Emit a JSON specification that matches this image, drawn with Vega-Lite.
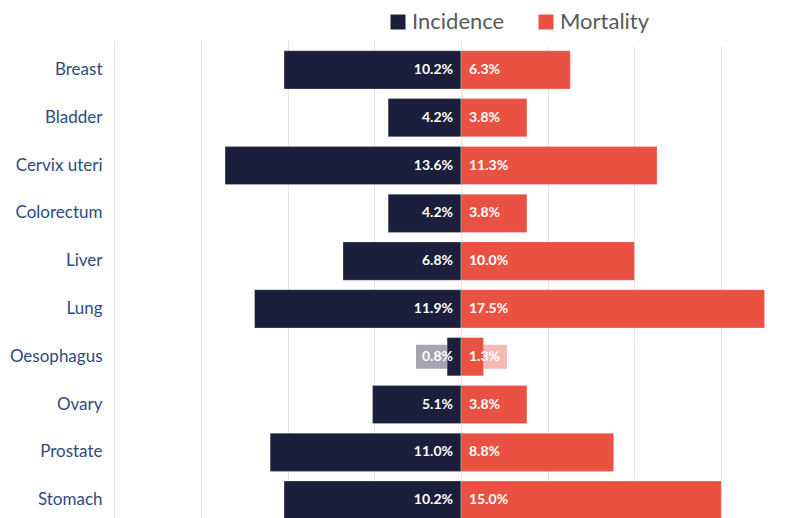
{
  "$schema": "https://vega.github.io/schema/vega-lite/v6.json",
  "width": 687,
  "height": 472,
  "autosize": "none",
  "padding": {"left": 114, "top": 46, "right": 0, "bottom": 0},
  "background": "white",
  "config": {
    "view": {"stroke": null},
    "font": "Lato",
    "legend": {
      "orient": "none",
      "legendX": 273,
      "legendY": -35,
      "direction": "horizontal",
      "symbolType": "square",
      "symbolSize": 225,
      "symbolStrokeWidth": 0,
      "symbolOpacity": 1,
      "labelFontSize": 22,
      "labelFont": "Lato",
      "labelColor": "#595959",
      "columnPadding": 30,
      "labelOffset": 3,
      "title": null
    }
  },
  "data": {
    "values": [
      {"cancer": "Breast", "measure": "Incidence", "value": 0.102},
      {"cancer": "Breast", "measure": "Mortality", "value": 0.063},
      {"cancer": "Bladder", "measure": "Incidence", "value": 0.042},
      {"cancer": "Bladder", "measure": "Mortality", "value": 0.038},
      {"cancer": "Cervix uteri", "measure": "Incidence", "value": 0.136},
      {"cancer": "Cervix uteri", "measure": "Mortality", "value": 0.113},
      {"cancer": "Colorectum", "measure": "Incidence", "value": 0.042},
      {"cancer": "Colorectum", "measure": "Mortality", "value": 0.038},
      {"cancer": "Liver", "measure": "Incidence", "value": 0.068},
      {"cancer": "Liver", "measure": "Mortality", "value": 0.100},
      {"cancer": "Lung", "measure": "Incidence", "value": 0.119},
      {"cancer": "Lung", "measure": "Mortality", "value": 0.175},
      {"cancer": "Oesophagus", "measure": "Incidence", "value": 0.008},
      {"cancer": "Oesophagus", "measure": "Mortality", "value": 0.013},
      {"cancer": "Ovary", "measure": "Incidence", "value": 0.051},
      {"cancer": "Ovary", "measure": "Mortality", "value": 0.038},
      {"cancer": "Prostate", "measure": "Incidence", "value": 0.110},
      {"cancer": "Prostate", "measure": "Mortality", "value": 0.088},
      {"cancer": "Stomach", "measure": "Incidence", "value": 0.102},
      {"cancer": "Stomach", "measure": "Mortality", "value": 0.150}
    ]
  },
  "encoding": {
    "y": {
      "field": "cancer",
      "type": "nominal",
      "scale": {
        "domain": ["Breast", "Bladder", "Cervix uteri", "Colorectum", "Liver", "Lung", "Oesophagus", "Ovary", "Prostate", "Stomach"],
        "range": [0, 478],
        "paddingInner": 0.2,
        "paddingOuter": 0.1
      },
      "axis": {
        "title": null,
        "ticks": false,
        "domain": false,
        "labelPadding": 12,
        "labelFontSize": 17,
        "labelFont": "Lato",
        "labelColor": "#2F4B7C",
        "grid": false
      }
    },
    "color": {
      "field": "measure",
      "type": "nominal",
      "scale": {"domain": ["Incidence", "Mortality"], "range": ["#1C1F3B", "#E95243"]}
    }
  },
  "layer": [
    {
      "transform": [{"filter": "datum.measure == 'Incidence'"}],
      "layer": [
        {
          "transform": [{"filter": "datum.value < 0.02"}],
          "mark": {"type": "bar", "height": 24, "xOffset": -45, "x2Offset": -3, "opacity": 0.4, "clip": true},
          "encoding": {
            "x": {"datum": 0, "type": "quantitative", "scale": {"domain": [0, 0.2], "range": [347, 0], "nice": false, "zero": true},
              "axis": {"title": null, "labels": false, "ticks": false, "domain": false, "grid": true, "gridColor": "#E3E3E3", "values": [0, 0.05, 0.1, 0.15, 0.2]}},
            "x2": {"datum": 0}
          }
        },
        {
          "mark": {"type": "bar", "clip": true, "stroke": "#ffffff", "strokeOpacity": 0.25, "strokeWidth": 1},
          "encoding": {
            "x": {"field": "value", "type": "quantitative"}
          }
        },
        {
          "mark": {"type": "text", "align": "right", "baseline": "middle", "dx": -8, "fontSize": 14, "fontWeight": "bold", "font": "Lato", "clip": true},
          "encoding": {
            "x": {"datum": 0, "type": "quantitative"},
            "text": {"field": "value", "type": "quantitative", "format": ".1%"},
            "color": {"value": "white"}
          }
        }
      ]
    },
    {
      "transform": [{"filter": "datum.measure == 'Mortality'"}],
      "layer": [
        {
          "transform": [{"filter": "datum.value < 0.02"}],
          "mark": {"type": "bar", "height": 24, "xOffset": 3, "x2Offset": 46, "opacity": 0.4, "clip": true},
          "encoding": {
            "x": {"datum": 0, "type": "quantitative", "scale": {"domain": [0, 0.196], "range": [347, 687], "nice": false, "zero": true},
              "axis": {"title": null, "labels": false, "ticks": false, "domain": false, "grid": true, "gridColor": "#E3E3E3", "values": [0.05, 0.1, 0.15]}},
            "x2": {"datum": 0}
          }
        },
        {
          "mark": {"type": "bar", "clip": true, "stroke": "#ffffff", "strokeOpacity": 0.25, "strokeWidth": 1},
          "encoding": {
            "x": {"field": "value", "type": "quantitative"}
          }
        },
        {
          "mark": {"type": "text", "align": "left", "baseline": "middle", "dx": 8, "fontSize": 14, "fontWeight": "bold", "font": "Lato", "clip": true},
          "encoding": {
            "x": {"datum": 0, "type": "quantitative"},
            "text": {"field": "value", "type": "quantitative", "format": ".1%"},
            "color": {"value": "white"}
          }
        }
      ]
    }
  ],
  "resolve": {"scale": {"x": "independent"}, "axis": {"x": "independent"}}
}
